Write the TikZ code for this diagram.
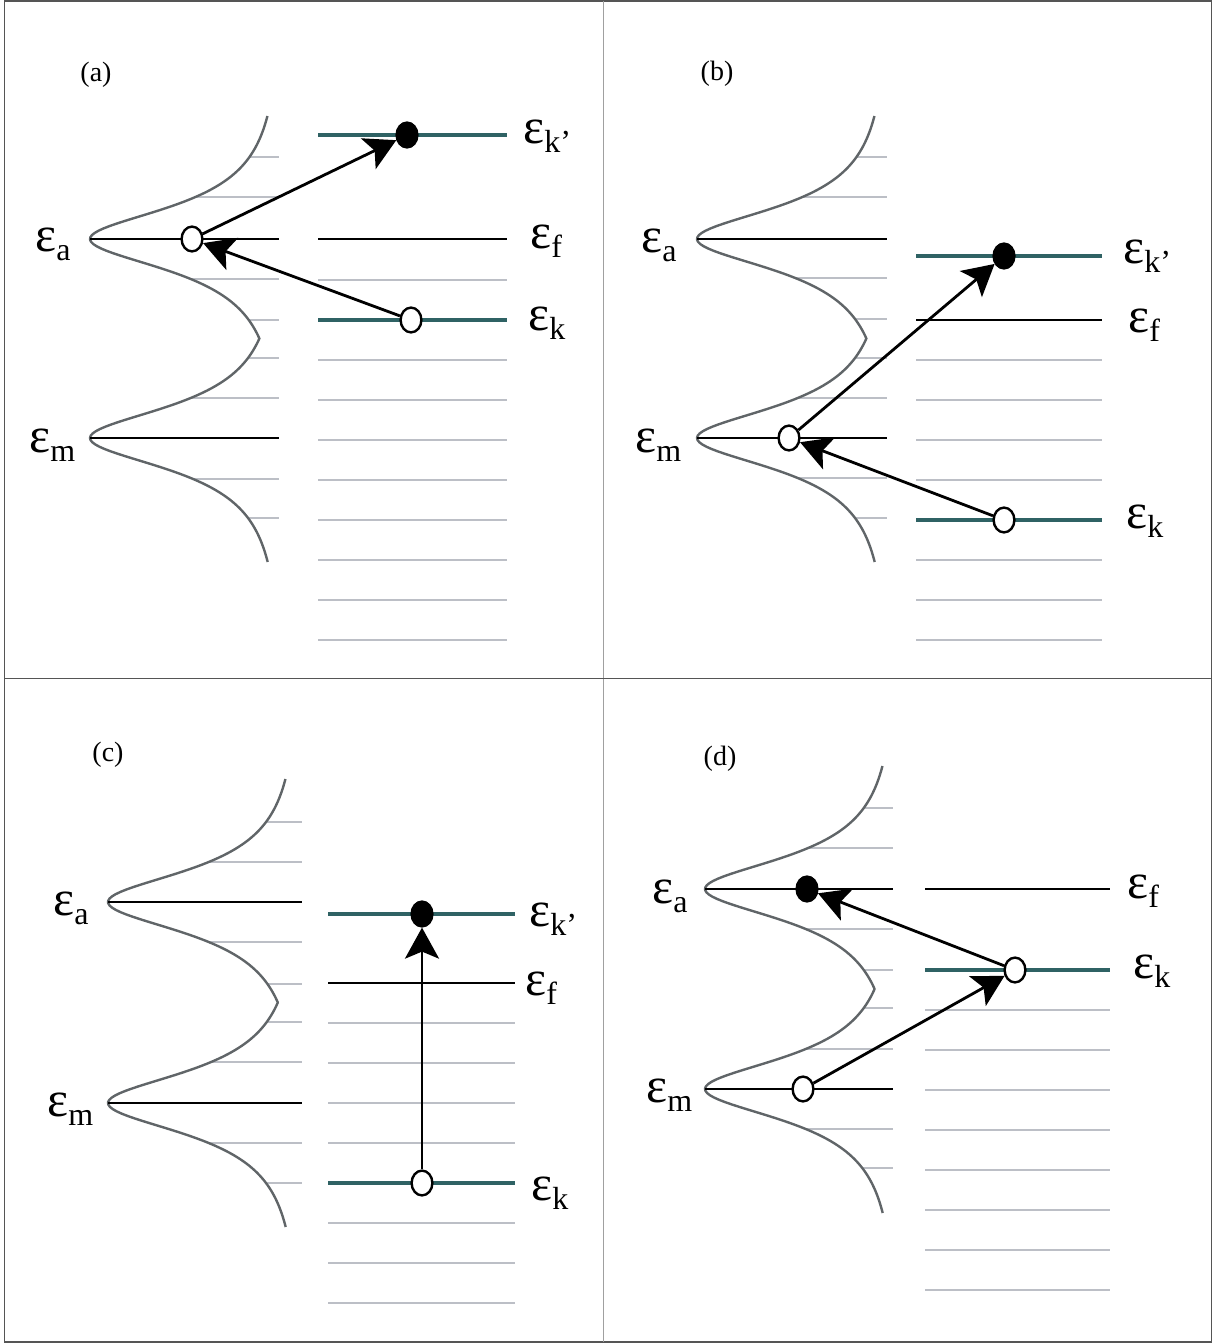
\documentclass[tikz,border=0pt]{standalone}
\usepackage{fontspec}
\setmainfont{Liberation Serif}
\usetikzlibrary{arrows.meta,shapes.geometric}
\definecolor{framegray}{RGB}{85,85,85}
\definecolor{vgray}{RGB}{160,160,160}
\definecolor{lgray}{RGB}{188,191,198}
\definecolor{cgray}{RGB}{96,101,104}
\definecolor{tealc}{RGB}{47,98,100}
\newcommand{\epslab}[1]{{\fontsize{25pt}{28pt}\selectfont ε}\raisebox{-4.5pt}{\fontsize{16pt}{16pt}\selectfont #1}}
% #1 tip x, #2 peak a y, #3 peak m y, #4 right end, #5 gray ys
\newcommand{\drawdos}[5]{%
  \foreach \yy in {#5} {%
    \pgfmathsetmacro{\dd}{min(abs(\yy-#2),abs(\yy-#3))/10}%
    \pgfmathsetmacro{\xs}{#1+195*(\dd*\dd/(14.98+\dd*\dd))}%
    \draw[gline] (\xs,\yy) -- (#4,\yy);
  }%
  \pgfmathsetmacro{\hdist}{(#3-#2)/20}%
  \draw[curve] plot[domain=-12.3:\hdist, samples=100] ({#1+195*(\x*\x/(14.98+\x*\x))},{#2+10*\x})
     -- plot[domain=-\hdist:12.4, samples=100] ({#1+195*(\x*\x/(14.98+\x*\x))},{#3+10*\x});
  \draw[bline] (#1,#2) -- (#4,#2);
  \draw[bline] (#1,#3) -- (#4,#3);
}
\newcommand{\ladder}[3]{%
  \foreach \yy in {#3} {\draw[gline] (#1,\yy) -- (#2,\yy);}%
}
\tikzset{
  frame/.style={draw=framegray, line width=0.55pt},
  vframe/.style={draw=vgray, line width=0.8pt},
  gline/.style={draw=lgray, line width=1.4pt},
  curve/.style={draw=cgray, line width=1.2pt, line join=round},
  bline/.style={draw=black, line width=1.35pt},
  tline/.style={draw=tealc, line width=1.7pt},
  opendot/.style={ellipse, draw=black, fill=white, line width=1.2pt, minimum width=10.4pt, minimum height=12.4pt, inner sep=0pt},
  fulldot/.style={opendot, fill=black},
  arr/.style={draw=black, line width=1.4pt, -{Stealth[length=15.5pt,width=17pt,inset=3.5pt]}},
  elabel/.style={anchor=base west, inner sep=0pt},
  plabel/.style={font=\fontsize{14pt}{16pt}\selectfont, inner sep=0pt},
}
\begin{document}
\begin{tikzpicture}[x=0.5pt,y=-0.5pt]
\useasboundingbox (0,0) rectangle (1213,1343);
% frame
\draw[frame] (4.5,1) rectangle (1211.5,1342);
\draw[vframe] (603.5,1) -- (603.5,1342);
\draw[frame] (4.5,678.5) -- (1211.5,678.5);

% ---------- panel (a)
\node[plabel] (la) at (96,75) {(a)};
\drawdos{90}{239}{438}{279}{157,197,279,320,358,398,479,518}
\ladder{318}{507}{280,360,400,440,480,520,560,600,640}
\draw[tline] (318,135) -- (507,135);
\draw[bline] (318,239) -- (507,239);
\draw[tline] (318,320) -- (507,320);
\node[fulldot] (aF) at (407,135) {};
\node[opendot] (aA) at (192,239) {};
\node[opendot] (aK) at (411,320) {};
\draw[arr] (aA) -- (aF);
\draw[arr] (aK) -- (aA);
\node[elabel] (aLa) at (35,251) {\epslab{a}};
\node[elabel] (aLm) at (29,452) {\epslab{m}};
\node[elabel] (aLkp) at (523,143) {\epslab{k’}};
\node[elabel] (aLf) at (530,248) {\epslab{f}};
\node[elabel] (aLk) at (528,330) {\epslab{k}};

% ---------- panel (b)
\node[plabel] (lb) at (717,74) {(b)};
\drawdos{697}{239}{438}{887}{157,197,278,319,358,398,478,518}
\ladder{916}{1102}{360,400,440,480,560,600,640}
\draw[tline] (916,256) -- (1102,256);
\draw[bline] (916,320) -- (1102,320);
\draw[tline] (916,520) -- (1102,520);
\node[fulldot] (bF) at (1004,256) {};
\node[opendot] (bM) at (789,438) {};
\node[opendot] (bK) at (1004,520) {};
\draw[arr] (bM) -- (bF);
\draw[arr] (bK) -- (bM);
\node[elabel] (bLa) at (641,252) {\epslab{a}};
\node[elabel] (bLm) at (635,452) {\epslab{m}};
\node[elabel] (bLkp) at (1123,263) {\epslab{k’}};
\node[elabel] (bLf) at (1128,332) {\epslab{f}};
\node[elabel] (bLk) at (1126,528) {\epslab{k}};

% ---------- panel (c)
\node[plabel] (lc) at (108,755) {(c)};
\drawdos{108}{902}{1103}{302}{822,862,942,984,1022,1062,1143,1183}
\ladder{328}{515}{1023,1063,1103,1143,1223,1263,1303}
\draw[tline] (328,914) -- (515,914);
\draw[bline] (328,983) -- (515,983);
\draw[tline] (328,1183) -- (515,1183);
\node[fulldot] (cF) at (422,914) {};
\node[opendot] (cK) at (422,1183) {};
\draw[arr] (cK) -- (cF);
\node[elabel] (cLa) at (53,915) {\epslab{a}};
\node[elabel] (cLm) at (47,1116) {\epslab{m}};
\node[elabel] (cLkp) at (529,926) {\epslab{k’}};
\node[elabel] (cLf) at (525,995) {\epslab{f}};
\node[elabel] (cLk) at (531,1200) {\epslab{k}};

% ---------- panel (d)
\node[plabel] (ld) at (720,759) {(d)};
\drawdos{705}{889}{1089}{893}{808,848,929,970,1008,1049,1129,1168}
\ladder{925}{1110}{1010,1050,1090,1130,1170,1210,1250,1290}
\draw[bline] (925,889) -- (1110,889);
\draw[tline] (925,970) -- (1110,970);
\node[fulldot] (dF) at (807,889) {};
\node[opendot] (dK) at (1015,970) {};
\node[opendot] (dM) at (803,1089) {};
\draw[arr] (dM) -- (dK);
\draw[arr] (dK) -- (dF);
\node[elabel] (dLa) at (652,903) {\epslab{a}};
\node[elabel] (dLm) at (646,1102) {\epslab{m}};
\node[elabel] (dLf) at (1127,898) {\epslab{f}};
\node[elabel] (dLk) at (1133,978) {\epslab{k}};
\end{tikzpicture}
\end{document}
